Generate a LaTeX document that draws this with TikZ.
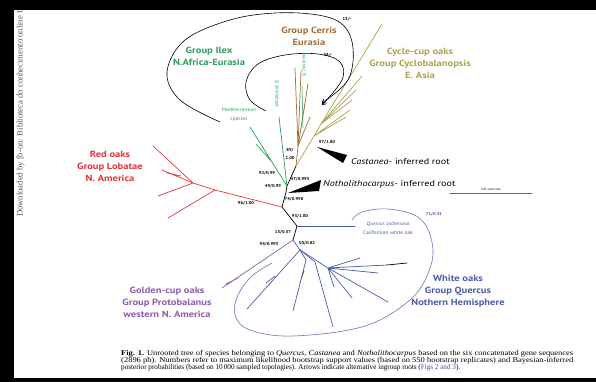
\documentclass[tikz,border=0pt]{standalone}
\usepackage{fontspec}
\setmainfont{Liberation Serif}
\setsansfont{PT Sans}
\usetikzlibrary{arrows.meta,positioning,calc}
\definecolor{redoak}{HTML}{E5343B}
\definecolor{ilexgreen}{HTML}{2E9E5B}
\definecolor{cerrisbrown}{HTML}{A4703A}
\definecolor{cycloolive}{HTML}{ABA44E}
\definecolor{goldpurple}{HTML}{8F5DB0}
\definecolor{whiteblue}{HTML}{4C5DAA}
\definecolor{capblue}{HTML}{3B4FA8}

\begin{document}
\begin{tikzpicture}[x=1pt,y=-1pt,line cap=round,
    grouplabel/.style={font=\sffamily\bfseries\fontsize{9}{12}\selectfont,align=center,inner sep=0pt,xscale=1.17},
    support/.style={font=\sffamily\bfseries\fontsize{4.2}{5}\selectfont,inner sep=0pt,xscale=1.1},
    species/.style={font=\sffamily\fontsize{5}{9}\selectfont,inner sep=0pt,align=center,xscale=1.1},
    rootlabel/.style={font=\sffamily\fontsize{8.5}{10}\selectfont,anchor=west,inner sep=0pt,xscale=1.2},
    twig/.style={line width=0.7pt},
    rootarrow/.style={line width=0.6pt,-{Straight Barb[length=3.5pt,width=5pt]}},
    caption/.style={font=\fontsize{7.4}{8}\selectfont,anchor=base west,inner sep=0pt}]
    % page and frame
    \fill[black] (0,0) rectangle (596,382);
    \fill[white] (14,10) rectangle (596,377.5);
    \node (dl) [rotate=90,anchor=west,inner sep=0pt,text=black!65,font=\fontsize{8.6}{8}\selectfont] at (20.5,217) {Downloaded by [b-on: Biblioteca do conhecimento online U};
    \fill[black] (0,0) rectangle (596,10);

    % junctions of the tree
    \coordinate (jo) at (296,166);
    \coordinate (jg) at (287,186);
    \coordinate (jn) at (286,192);
    \coordinate (jr) at (282,207);
    \coordinate (js) at (297,226);
    \coordinate (jp) at (293,240);
    \coordinate (jw) at (300,250);
    \draw[twig,black] (jo) -- (jg) -- (jn) -- (jr) -- (js) -- (jp);

    % Cyclobalanopsis
    \coordinate (jc) at (314,136);
    \coordinate (jc2) at (321,124);
    \draw[twig,cycloolive] (jo) -- (jc) -- (jc2) -- (382,24);
    \draw[twig,cycloolive] (jc) -- (346,117) (jc) -- (350,110) (jc2) -- (352,100) (jc2) -- (356,90) (jc2) -- (362,76);

    % Cerris
    \coordinate (jb) at (298,146);
    \draw[twig,cerrisbrown] (jo) -- (jb) -- (295,68);
    \draw[twig,cerrisbrown] (jb) -- (301,71) (jb) -- (308,84) (jb) -- (305,104) (jb) -- (310,117);
    \draw[line width=0.5pt,ilexgreen] (303,128) -- (302,86);

    % Ilex
    \draw[twig,ilexgreen] (jg) -- (250,127) (jg) -- (279,117) (272,162) -- (256,144);

    % Lobatae
    \coordinate (jr1) at (215,190);
    \coordinate (jr2) at (193,183);
    \draw[twig,redoak] (jr) -- (jr1) -- (jr2) -- (153,146);
    \draw[twig,redoak] (jr1) -- (168,218) (jr2) -- (158,196) (jr2) -- (162,170) (167,173) -- (181,176);

    % Protobalanus
    \draw[twig,goldpurple] (jp) -- (222,288) (238,278) -- (226,284);

    % Quercus
    \coordinate (jq) at (328,268);
    \draw[twig,whiteblue] (js) -- (355,226);
    \draw[twig,whiteblue] (jp) -- (jw) -- (247,309) (275,276) -- (266,283);
    \draw[twig,whiteblue] (jw) -- (306,260) -- (293,311) (300,283) -- (304,271);
    \draw[twig,whiteblue] (jw) -- (315,262) -- (333,327);
    \draw[twig,whiteblue] (jw) -- (jq) -- (360,258) (jq) -- (387,265) (jq) -- (378,273) (jq) -- (388,302) (jq) -- (352,298) (jq) -- (334,287);
    \draw[twig,black] (387,265) -- (407,263);
    \draw[line width=0.6pt,whiteblue!85] plot[smooth,tension=0.6] coordinates {(272,263) (252,276) (238,295) (235,315) (250,330) (293,336) (365,326) (412,298) (431,265) (431,238) (418,217) (388,209) (362,212) (352,220)};

    % alternative roots
    \draw[rootarrow] plot[smooth,tension=0.6] coordinates {(220,122) (180,100) (167,72) (185,40) (230,20) (275,13) (318,15) (343,25) (353,48) (348,80) (322,103)};
    \draw[rootarrow] plot[smooth,tension=0.6] coordinates {(266,111) (250,100) (246,82) (258,64) (285,55) (318,54) (340,62) (342,80) (322,105)};
    \fill[black] (317,147) -- (347,155) -- (343,163) -- cycle;
    \fill[black] (288,193) -- (321,180) -- (319,191) -- cycle;
    \node (castanea) [rootlabel] at (351,162) {\textit{Castanea}- inferred root};
    \node (notho) [rootlabel] at (323,184) {\textit{Notholithocarpus}- inferred root};

    % group names
    \node (ilex) [grouplabel,text=ilexgreen] at (209,56) {Group Ilex\\N.Africa-Eurasia};
    \node (cerris) [grouplabel,text=cerrisbrown] at (309,36) {Group Cerris\\Eurasia};
    \node (cyclo) [grouplabel,text=cycloolive] at (420,63) {Cycle-cup oaks\\Group Cyclobalanopsis\\E. Asia};
    \node (lobatae) [grouplabel,text=redoak] at (110,166) {Red oaks\\Group Lobatae\\N. America};
    \node (proto) [grouplabel,text=goldpurple] at (167,302) {Golden-cup oaks\\Group Protobalanus\\western N. America};
    \node (quercus) [grouplabel,text=whiteblue] at (458,291) {White oaks\\Group Quercus\\Nothern Hemisphere};

    % species
    \node (medit) [species,text=ilexgreen] at (239,115) {Mediterranean\\species};
    \node (dolich) [species,text=ilexgreen,rotate=-90,font=\sffamily\itshape\fontsize{4.5}{5}\selectfont] at (277,94) {Q. dolicholepis};
    \node (franch) [species,text=ilexgreen,rotate=90,font=\sffamily\itshape\fontsize{4.5}{5}\selectfont] at (304,65) {Q. franchetii};
    \node (sadler) [species,text=whiteblue] at (388,228.5) {\textit{Quercus sadleriana}\\Californian white oak};

    % support values
    \node (s13) [support] at (347,19) {13/-};
    \node (s34) [support] at (328,55) {34/-};
    \node (s89) [support,align=center,font=\sffamily\bfseries\fontsize{4.2}{8}\selectfont] at (290,154) {89/\\1.00};
    \node (s97) [support] at (327,142) {97/1.00};
    \node (s92) [support] at (267,173) {92/0.99};
    \node (s49) [support] at (273,186) {49/0.99};
    \node (s47) [support] at (300,179) {47/0.995};
    \node (s74) [support] at (294,199) {74/0.998};
    \node (s96) [support] at (246,203) {96/1.00};
    \node (s93) [support] at (300,216) {93/1.00};
    \node (s15) [support] at (283,232) {15/0.57};
    \node (s94) [support] at (269,244) {94/0.995};
    \node (s50) [support] at (307,243) {50/0.82};
    \node (s71) [support,text=whiteblue] at (434,214) {71/0.41};

    % scale bar
    \draw[black!60,line width=0.7pt] (450,193) coordinate (sb1) -- (532,193) coordinate (sb2);
    \node (sblabel) [inner sep=0pt,font=\sffamily\fontsize{3}{3}\selectfont,above=2pt of $(sb1)!0.5!(sb2)$] {0.01 subst./site};

    % caption
    \node (cap1) [caption] at (121,355.5) {\resizebox{452pt}{\height}{\textbf{Fig. 1.} Unrooted tree of species belonging to \textit{Quercus}, \textit{Castanea} and \textit{Notholithocarpus} based on the six concatenated gene sequences}};
    \node (cap2) [caption] at (121,362.5) {\resizebox{452pt}{\height}{(2896 pb). Numbers refer to maximum likelihood bootstrap support values (based on 550 bootstrap replicates) and Bayesian-inferred}};
    \node (cap3) [caption] at (121,369.5) {\resizebox{339pt}{\height}{posterior probabilities (based on 10\,000 sampled topologies). Arrows indicate alternative ingroup roots ({\color{capblue}Figs 2 and 3}).}};
\end{tikzpicture}
\end{document}
